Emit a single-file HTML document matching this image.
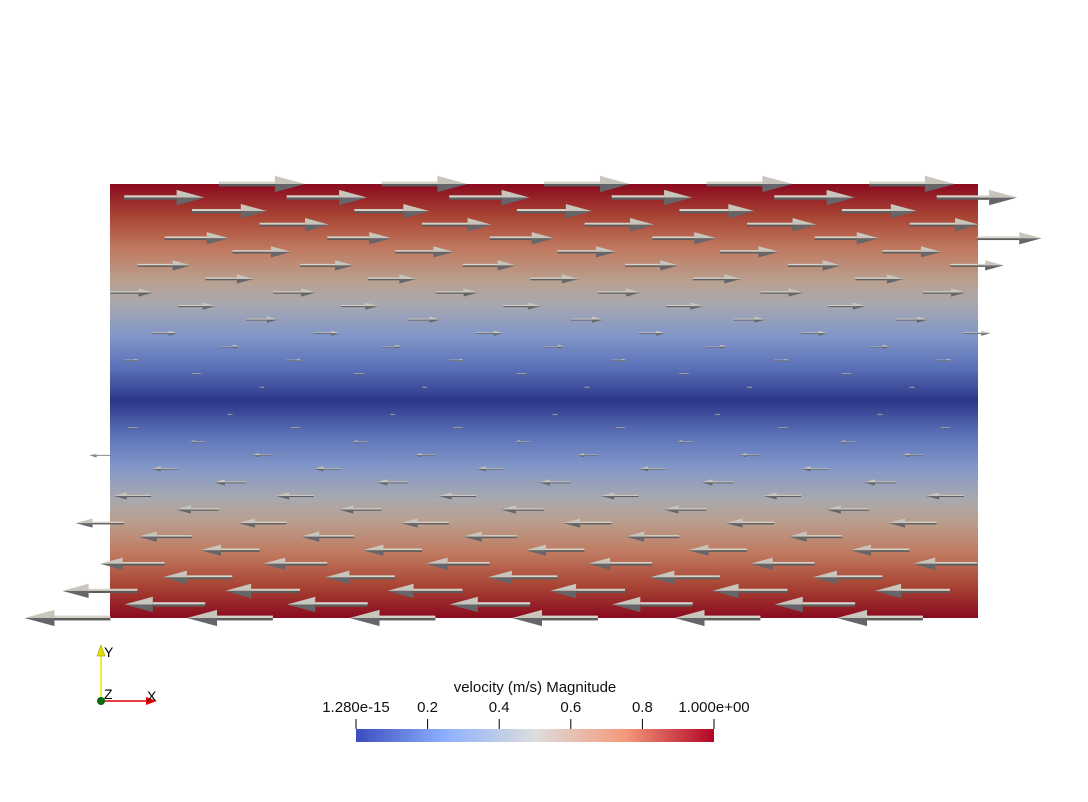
<!DOCTYPE html>
<html><head><meta charset="utf-8"><style>
html,body{margin:0;padding:0;background:#fff;width:1088px;height:802px;overflow:hidden}
svg{display:block}
text{font-family:"Liberation Sans",sans-serif}
</style></head><body>
<svg id="chart" width="1088" height="802">
<defs>
<linearGradient id="field" x1="0" y1="184" x2="0" y2="618" gradientUnits="userSpaceOnUse">
<stop offset="0" stop-color="#8a0a1f"/><stop offset="0.075" stop-color="#a94535"/><stop offset="0.15" stop-color="#c07a60"/>
<stop offset="0.225" stop-color="#b9a090"/><stop offset="0.275" stop-color="#a8a9ae"/><stop offset="0.35" stop-color="#8196c8"/>
<stop offset="0.425" stop-color="#5a70b8"/><stop offset="0.5" stop-color="#2b3688"/>
<stop offset="0.575" stop-color="#5a70b8"/><stop offset="0.65" stop-color="#8196c8"/><stop offset="0.725" stop-color="#a8a9ae"/>
<stop offset="0.775" stop-color="#b9a090"/><stop offset="0.85" stop-color="#c07a60"/><stop offset="0.925" stop-color="#a94535"/>
<stop offset="1" stop-color="#8a0a1f"/>
</linearGradient>
<linearGradient id="cbar" x1="0" x2="1" y1="0" y2="0">
<stop offset="0" stop-color="#3b4cc0"/><stop offset="0.25" stop-color="#8db0fe"/><stop offset="0.5" stop-color="#dddddd"/>
<stop offset="0.75" stop-color="#f49a7b"/><stop offset="1" stop-color="#b40426"/>
</linearGradient>
</defs>
<rect x="110" y="184" width="868" height="434" fill="url(#field)"/>
<g id="glyphs"></g>
<g>
<line x1="101" y1="700" x2="101" y2="656" stroke="#e8e800" stroke-width="1.5"/>
<polygon points="97,656 105,656 101,645" fill="#e0e000" stroke="#888800" stroke-width="0.5"/>
<line x1="101" y1="701" x2="146" y2="701" stroke="#e00000" stroke-width="1.5"/>
<polygon points="146,697 146,705 157,701" fill="#e00000"/>
<circle cx="101" cy="701" r="4" fill="#0a6a0a"/>
<text x="104" y="657" font-size="14" fill="#000">Y</text>
<text x="104" y="699" font-size="14" fill="#000">Z</text>
<text x="147" y="701" font-size="14" fill="#000">X</text>
</g>
<g>
<text x="535" y="692" font-size="15" text-anchor="middle" fill="#111">velocity (m/s) Magnitude</text>
<rect x="356" y="729" width="358" height="13" fill="url(#cbar)"/>
<g id="cticks"></g>
</g>
</svg>
<script>
const rowVelocity=[1,0.9375,0.875,0.8125,0.75,0.6875,0.625,0.5625,0.5,0.4375,0.375,0.3125,0.25,0.1875,0.125,0.0625,0,-0.0625,-0.125,-0.1875,-0.25,-0.3125,-0.375,-0.4375,-0.5,-0.5625,-0.625,-0.6875,-0.75,-0.8125,-0.875,-0.9375,-1];
const tickValues=[0,0.2,0.4,0.6,0.8,1];
const tickLabels=["1.280e-15","0.2","0.4","0.6","0.8","1.000e+00"];
const NS="http://www.w3.org/2000/svg";
const yTop=184,yBot=618,xL=109.5,xR=978,dx=162.5,L0=86;
function rowY(i){return yTop+i*(yBot-yTop)/(rowVelocity.length-1);}
const g=document.getElementById('glyphs');
function mk(tag,attrs){const e=document.createElementNS(NS,tag);for(const k in attrs)e.setAttribute(k,attrs[k]);return e;}
rowVelocity.forEach((v,i)=>{
  const y=rowY(i);
  let off=(219+67.7*i-xL)%dx; if(off<0)off+=dx; off+=xL;
  const L=L0*Math.abs(v); if(L<1.5)return;
  const s=v>=0?1:-1;
  for(let x=off;x<=xR;x+=dx){
    const a=mk('g',{});
    
    
    const hb=x+s*L*0.65, tip=x+s*L, hw=Math.max(1,L*0.095), sw=Math.max(0.6,L*0.028);
    const sx=Math.min(x,hb);
    a.appendChild(mk('rect',{x:sx,y:y-sw,width:Math.abs(hb-x),height:sw,fill:'#d6d2c8'}));
    a.appendChild(mk('rect',{x:sx,y:y,width:Math.abs(hb-x),height:sw,fill:'#5c5c5c'}));
    a.appendChild(mk('polygon',{points:`${hb},${y-hw} ${tip},${y} ${hb},${y}`,fill:'#c8c5bd'}));
    a.appendChild(mk('polygon',{points:`${hb},${y} ${tip},${y} ${hb},${y+hw}`,fill:'#66666a'}));
    g.appendChild(a);
  }
});
const ct=document.getElementById('cticks');
const cx=v=>356+v*358;
tickValues.forEach((v,i)=>{
  const l=mk('line',{x1:cx(v),x2:cx(v),y1:719,y2:729,stroke:'#000','stroke-width':1});
  
  
  ct.appendChild(l);
  const t=mk('text',{x:cx(v),y:712,'font-size':15,'text-anchor':'middle',fill:'#111'});
  
  
  t.textContent=tickLabels[i];ct.appendChild(t);
});
</script>
</body></html>
